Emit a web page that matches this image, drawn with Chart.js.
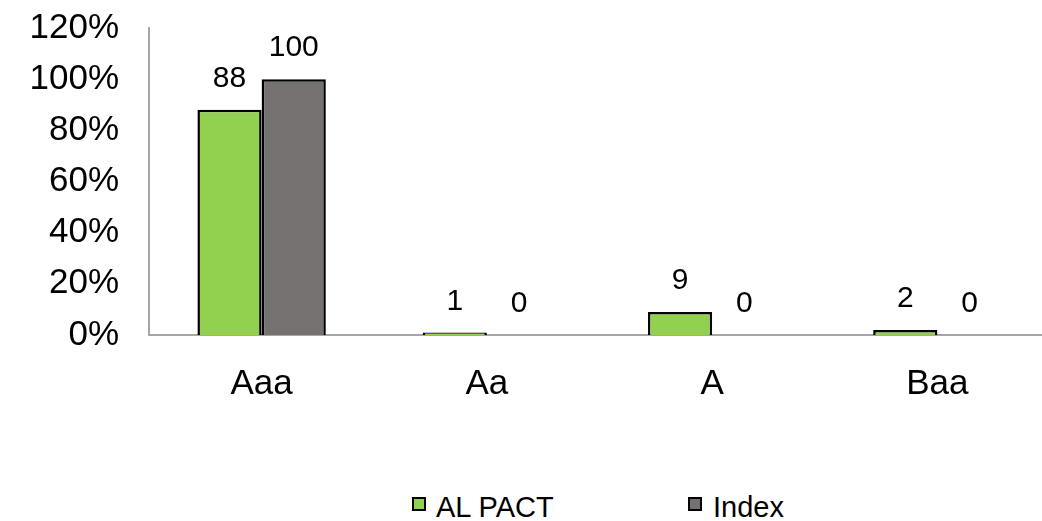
<!DOCTYPE html>
<html>
<head>
<meta charset="utf-8">
<script src="https://cdn.jsdelivr.net/npm/chart.js@4/dist/chart.umd.min.js"></script>
<style>
  html, body { margin: 0; padding: 0; background: #fff; overflow: hidden; }
  #wrap { position: relative; width: 1042px; height: 521px; overflow: hidden; }
  #myChart { position: absolute; left: 0; top: 0; }
  .leg { position: absolute; font-family: "Liberation Sans", Arial, sans-serif; font-size: 29px; color: #000; line-height: 30px; }
  .box { position: absolute; width: 10px; height: 10px; border: 2px solid #000; }
</style>
</head>
<body>
<div id="wrap">
  <canvas id="myChart" width="1050" height="430"></canvas>
  <div class="box" style="left:412px; top:497px; background:#92D050"></div>
  <div class="leg" style="left:436px; top:492px">AL PACT</div>
  <div class="box" style="left:688px; top:497px; background:#767171"></div>
  <div class="leg" style="left:713px; top:492px">Index</div>
</div>
<script>
const categories = ['Aaa', 'Aa', 'A', 'Baa'];
const alPact = [88, 1, 9, 2];
const indexVals = [100, 0, 0, 0];
const yTicks = [0, 20, 40, 60, 80, 100, 120];

const fontFamily = '"Liberation Sans", Arial, sans-serif';

// value labels above each bar
const barLabels = {
    id: 'barLabels',
    afterDatasetsDraw(chart) {
        const ctx = chart.ctx;
        ctx.save();
        ctx.font = '30px ' + fontFamily;
        ctx.fillStyle = '#000';
        ctx.textAlign = 'center';
        ctx.textBaseline = 'middle';
        chart.data.datasets.forEach((ds, i) => {
            chart.getDatasetMeta(i).data.forEach((bar, j) => {
                ctx.fillText(String(ds.data[j]), bar.x, bar.y - 31);
            });
        });
        ctx.restore();
    }
};

const ctx = document.getElementById('myChart').getContext('2d');
const myChart = new Chart(ctx, {
    type: 'bar',
    data: {
        labels: categories,
        datasets: [{
            label: 'AL PACT',
            data: alPact,
            backgroundColor: '#92D050',
            borderColor: '#000',
            borderWidth: (c) => c.raw === 0 ? 0 : 2.5,
            borderSkipped: 'bottom'
        }, {
            label: 'Index',
            data: indexVals,
            backgroundColor: '#767171',
            borderColor: '#000',
            borderWidth: (c) => c.raw === 0 ? 0 : 2.5,
            borderSkipped: 'bottom'
        }]
    },
    options: {
        responsive: false,
        animation: false,
        categoryPercentage: 0.57,
        barPercentage: 1,
        layout: { padding: { top: 28, left: 0, right: 0, bottom: 0 } },
        plugins: {
            legend: { display: false },
            tooltip: { enabled: false }
        },
        scales: {
            x: {
                grid: { display: false },
                border: { display: true, color: '#A6A6A6', width: 2 },
                ticks: {
                    color: '#000',
                    padding: 20,
                    font: { family: fontFamily, size: 35 }
                },
                afterFit: (s) => { s.height = 95; s.paddingLeft = 0; s.paddingRight = 0; }
            },
            y: {
                min: 0,
                max: 120,
                afterBuildTicks: (s) => { s.ticks = yTicks.map(v => ({ value: v })); },
                grid: { display: false },
                border: { display: true, color: '#A6A6A6', width: 2 },
                ticks: {
                    color: '#000',
                    padding: 22,
                    font: { family: fontFamily, size: 35 },
                    callback: (v) => v + '%'
                },
                afterFit: (s) => { s.width = 149; s.paddingTop = 0; s.paddingBottom = 0; }
            }
        }
    },
    plugins: [barLabels]
});
</script>
</body>
</html>
